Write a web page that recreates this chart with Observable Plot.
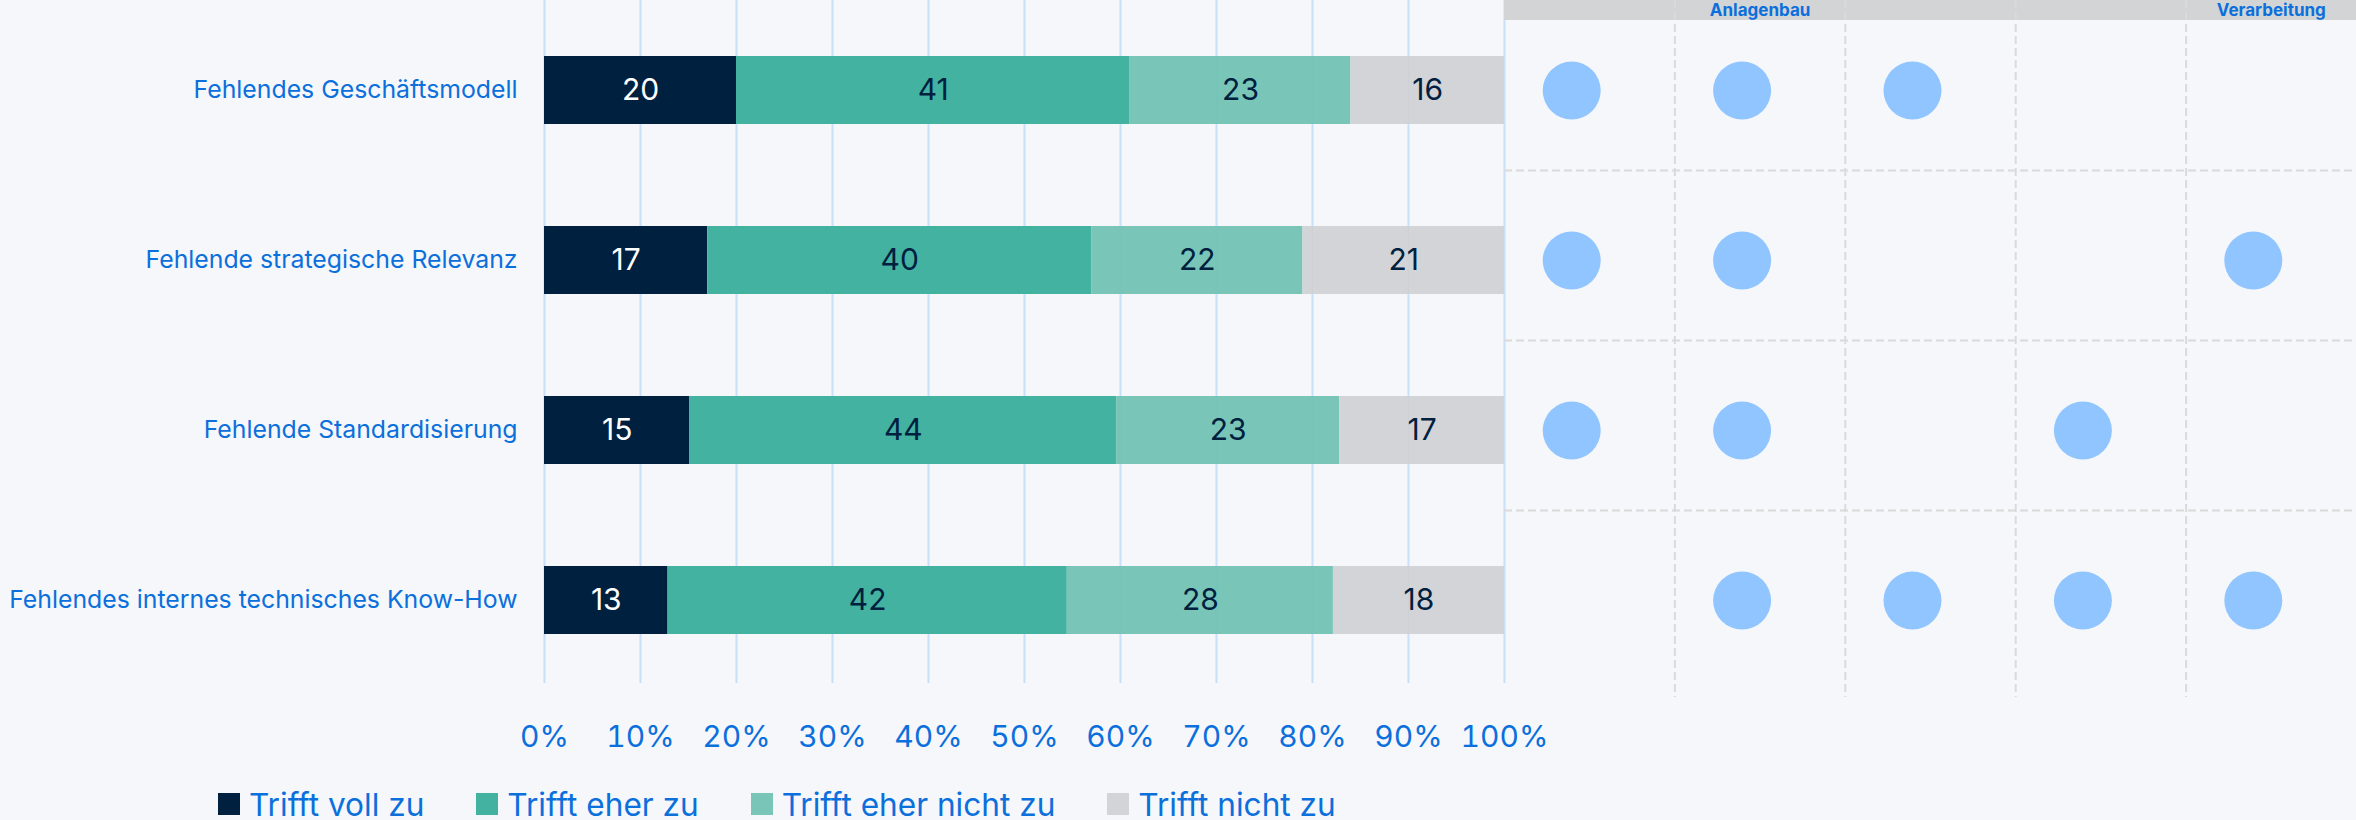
<!DOCTYPE html>
<html>
<head>
<meta charset="utf-8">
<script src="https://cdn.jsdelivr.net/npm/d3@7"></script>
<script src="https://cdn.jsdelivr.net/npm/@observablehq/plot@0.6"></script>
<style>
  html, body { margin: 0; padding: 0; background: #f5f7fb; }
  body { width: 2356px; height: 820px; overflow: hidden; font-family: Inter, "Noto Sans", sans-serif; }
  #row { display: flex; flex-direction: row; }
  #legend { display: flex; align-items: center; height: 32px; padding-left: 218px; margin-top: 18px; }
  .item { display: flex; align-items: center; margin-right: 52px; }
  .sw { width: 22px; height: 22px; margin-right: 9px; }
  .lt { font-size: 31.6px; color: #0b6fdc; white-space: nowrap; }
</style>
</head>
<body>
<div id="row"></div>
<div id="legend"></div>
<script>
// ---- data ----
const categories = [
  "Fehlendes Geschäftsmodell",
  "Fehlende strategische Relevanz",
  "Fehlende Standardisierung",
  "Fehlendes internes technisches Know-How"
];
const series = ["Trifft voll zu", "Trifft eher zu", "Trifft eher nicht zu", "Trifft nicht zu"];
const trifftVollZu      = [20, 17, 15, 13];
const trifftEherZu      = [41, 40, 44, 42];
const trifftEherNichtZu = [23, 22, 23, 28];
const trifftNichtZu     = [16, 21, 17, 18];
const xTicks = [0, 10, 20, 30, 40, 50, 60, 70, 80, 90, 100];
const columnLabels = ["", "Anlagenbau", "", "", "Verarbeitung"];
// presence matrix: rows = categories, cols = columnLabels
const presence = [
  [1, 1, 1, 0, 0],
  [1, 1, 0, 0, 1],
  [1, 1, 0, 1, 0],
  [0, 1, 1, 1, 1]
];

// ---- styles ----
const colors = ["#00203f", "#44b2a0", "#68bfaf", "#cecfd1"];
const opac = [1, 1, 0.88, 0.88];
const blue = "#0b6fdc";
const navy = "#00203f";
const font = 'Inter, "Noto Sans", sans-serif';

const seriesValues = [trifftVollZu, trifftEherZu, trifftEherNichtZu, trifftNichtZu];
const data = [];
categories.forEach((c, i) => {
  series.forEach((s, j) => data.push({category: c, series: s, value: seriesValues[j][i], op: opac[j]}));
});

const yOpts = {domain: categories, range: [4.5, 684.5], paddingInner: 0.6, paddingOuter: 0.3, label: null};

const left = Plot.plot({
  width: 1504, height: 770,
  marginLeft: 544, marginRight: 0, marginTop: 0, marginBottom: 87,
  style: {background: "transparent", fontFamily: font, color: blue, overflow: "visible"},
  x: {domain: [0, 1], label: null},
  y: yOpts,
  color: {domain: series, range: colors},
  marks: [
    Plot.ruleX(xTicks, {x: d => d / 100, stroke: "#c9e0fa", strokeWidth: 2}),
    Plot.barX(data, Plot.stackX({x: "value", y: "category", fill: "series", fillOpacity: "op", offset: "normalize"})),
    Plot.text(data, Plot.stackX({x: "value", y: "category", z: "series", offset: "normalize",
      text: d => d.series === series[0] ? String(d.value) : "", fill: "white", fontSize: 30})),
    Plot.text(data, Plot.stackX({x: "value", y: "category", z: "series", offset: "normalize",
      text: d => d.series !== series[0] ? String(d.value) : "", fill: navy, fontSize: 30})),
    Plot.axisX(xTicks.map(d => d / 100), {tickFormat: d => Math.round(d * 100) + "%", tickSize: 0, tickPadding: 42, fontSize: 30, label: null}),
    Plot.axisY({tickSize: 0, tickPadding: 27, fontSize: 24.8, label: null})
  ]
});

const dots = [];
presence.forEach((row, i) => row.forEach((p, j) => { if (p) dots.push({category: categories[i], col: j}); }));

const right = Plot.plot({
  width: 852, height: 770,
  marginLeft: 0, marginRight: 0, marginTop: 0, marginBottom: 73,
  style: {background: "linear-gradient(#d3d4d6 0px, #d3d4d6 20px, transparent 20px)", fontFamily: font, color: blue, overflow: "hidden"},
  x: {domain: [0, columnLabels.length], axis: null},
  y: {...yOpts, axis: null},
  marks: [
    Plot.ruleY(categories.slice(1), {dy: -90, stroke: "#dadada", strokeWidth: 2, strokeDasharray: "8,4"}),
    Plot.ruleX(d3.range(1, columnLabels.length), {stroke: "#dadada", strokeWidth: 2, strokeDasharray: "8,4"}),
    Plot.dot(dots, {x: d => d.col + 0.5, y: "category", r: 29, fill: "#90c5ff", dx: -18}),
    Plot.text(columnLabels, {x: (d, i) => i + 0.5, text: d => d, frameAnchor: "top", lineAnchor: "middle", dy: 10,
      fontSize: 17, fontWeight: 700, fill: blue})
  ]
});

document.getElementById("row").append(left, right);

const legend = document.getElementById("legend");
series.forEach((s, j) => {
  const it = document.createElement("div");
  it.className = "item";
  const sw = document.createElement("span");
  sw.className = "sw";
  sw.style.background = colors[j];
  sw.style.opacity = opac[j];
  const t = document.createElement("span");
  t.className = "lt";
  t.textContent = s;
  it.append(sw, t);
  legend.append(it);
});
</script>
</body>
</html>
